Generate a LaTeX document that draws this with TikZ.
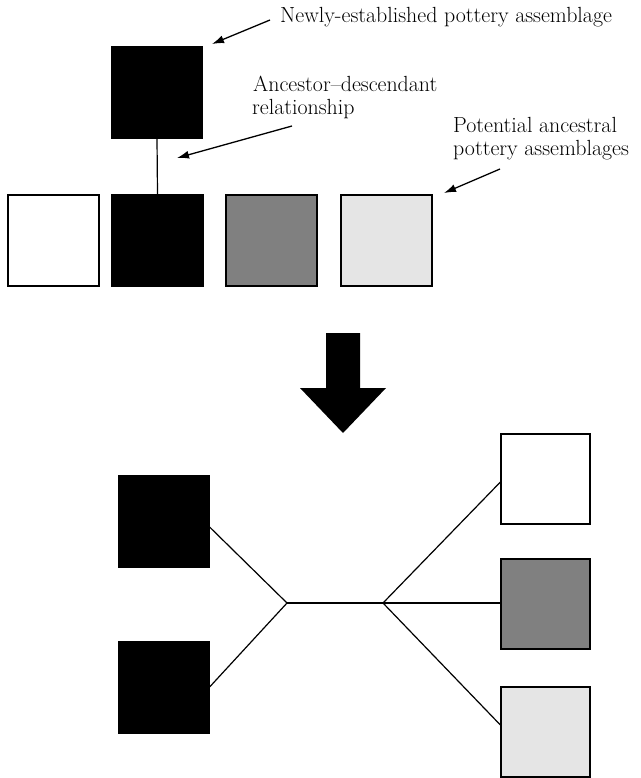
\documentclass[tikz,border=0pt]{standalone}
\usetikzlibrary{arrows.meta,calc}
\begin{document}
\begin{tikzpicture}[x=1pt,y=-1pt,
  box/.style={draw=black,line width=1.2pt,inner sep=0pt,minimum width=90pt,minimum height=91pt},
  lbl/.style={inner sep=0pt,anchor=base west,font=\fontsize{21.9}{25}\selectfont},
  pointer/.style={line width=1.3pt,-{Latex[length=12pt,width=8pt]}},
  link/.style={line width=1.2pt}]
\useasboundingbox (0,0) rectangle (640,778);
% top part
\node[box,fill=black] (T) at (157,92.5) {};
\node[box,fill=white,minimum width=91pt] (A1) at (53.5,240.5) {};
\node[box,fill=black,minimum width=91pt] (A2) at (157.5,240.5) {};
\node[box,fill=black!50,minimum width=91pt] (A3) at (271.5,240.5) {};
\node[box,fill=black!10,minimum width=91pt] (A4) at (386.5,240.5) {};
\draw[link] (T.south) -- (A2.north);
% labels
\node[lbl] (t1) at (280,23) {Newly-established pottery assemblage};
\node[lbl] (t2a) at (253,92) {Ancestor--descendant};
\node[lbl] (t2b) at (252,115) {relationship};
\node[lbl] (t3a) at (453,133) {Potential ancestral};
\node[lbl] (t3b) at (453,156) {pottery assemblages};
% pointers
\coordinate (p1s) at (270,20); \coordinate (p1e) at (212,44);
\coordinate (p2s) at (292,126); \coordinate (p2e) at (177,158);
\coordinate (p3s) at (500,169); \coordinate (p3e) at (444,193);
\draw[pointer] (p1s) -- (p1e);
\draw[pointer] (p2s) -- (p2e);
\draw[pointer] (p3s) -- (p3e);
% big arrow
\fill[black] (326,333) -- (360,333) -- (360,388) -- (386,388) -- (343,433) -- (300,388) -- (326,388) -- cycle;
% bottom part
\node[box,fill=black] (L1) at (164,521.5) {};
\node[box,fill=black] (L2) at (164,687.5) {};
\node[box,fill=white,minimum width=89pt,minimum height=90pt] (R1) at (545.5,479) {};
\node[box,fill=black!50,minimum width=89pt,minimum height=90pt] (R2) at (545.5,604) {};
\node[box,fill=black!10,minimum width=89pt,minimum height=90pt] (R3) at (545.5,732) {};
\coordinate (j1) at (287,603);
\coordinate (j2) at (383,603);
\draw[link] ($(L1.east)+(0,5.5)$) -- (j1) -- ($(L2.east)+(0,-0.5)$);
\draw[link] (j1) -- (j2);
\draw[link] (j2) -- ($(R1.west)+(0,3)$);
\draw[link] (j2) -- ($(R2.west)+(0,-1)$);
\draw[link] (j2) -- ($(R3.west)+(0,-7)$);
\end{tikzpicture}
\end{document}
